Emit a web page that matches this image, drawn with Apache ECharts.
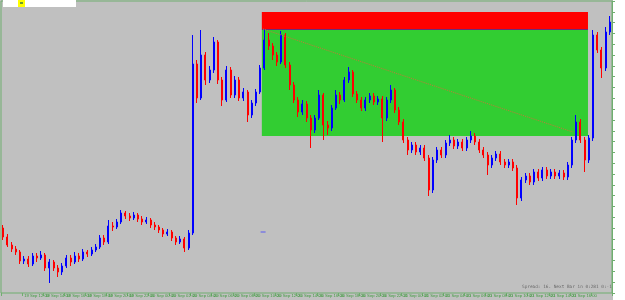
<!DOCTYPE html>
<html><head><meta charset="utf-8">
<script src="https://cdn.jsdelivr.net/npm/echarts@6/dist/echarts.min.js"></script>
<style>html,body{margin:0;padding:0;background:#c0c0c0}#c{width:625px;height:300px}</style>
</head><body><div id="c"></div>
<script>
const tickLabels = ['19 Sep 2023','19 Sep 12:00','19 Sep 14:00','19 Sep 16:00','19 Sep 18:00','19 Sep 20:00','19 Sep 22:00','20 Sep 00:00','20 Sep 02:00','20 Sep 04:00','20 Sep 06:00','20 Sep 08:00','20 Sep 10:00','20 Sep 12:00','20 Sep 14:00','20 Sep 16:00','20 Sep 18:00','20 Sep 20:00','20 Sep 22:00','21 Sep 00:00','21 Sep 02:00','21 Sep 04:00','21 Sep 06:00','21 Sep 08:00','21 Sep 10:00','21 Sep 12:00','21 Sep 14:00','21 Sep 16:00','21 Sep 18:00'];

const opens = [72,63,55,51,48,39,41,36,44,42,45,32,38,32,28,34,42,38,44,41,48,46,50,53,62,58,74,73,78,87,84,82,85,81,78,80,75,73,70,66,68,62,58,61,52,67,236,202,245,220,230,258,220,200,230,205,220,202,208,185,197,208,232,260,254,245,238,265,235,215,200,188,196,182,170,182,205,175,172,192,205,200,220,228,206,200,192,200,204,198,201,182,200,210,190,178,160,150,155,148,152,142,110,140,150,145,157,160,154,158,152,160,164,158,150,145,135,142,146,138,135,138,132,102,120,124,118,128,122,130,124,128,124,127,123,135,160,178,160,140,162,265,250,232,268];
const closes = [63,55,51,48,39,41,36,44,42,45,32,38,32,28,34,42,38,44,41,48,46,50,53,62,58,74,73,78,87,84,82,85,81,78,80,75,73,70,66,68,62,58,61,52,67,236,202,245,220,230,258,220,200,230,205,220,202,208,185,197,208,232,260,254,245,238,265,235,215,200,188,196,182,170,182,205,175,172,192,205,200,220,228,206,200,192,200,204,198,201,182,200,210,190,178,160,150,155,148,152,142,110,140,150,145,157,160,154,158,152,160,164,158,150,145,135,142,146,138,135,138,132,102,120,124,118,128,122,130,124,128,124,127,123,135,160,178,160,140,162,265,250,232,268,278];
const highs = [75,66,58,54,50,44,44,47,47,49,47,41,40,35,37,45,45,48,47,51,50,53,56,65,65,80,78,81,90,89,87,88,87,84,83,82,78,75,72,71,70,64,64,63,70,265,240,270,248,234,263,260,223,234,233,224,223,212,210,200,211,235,270,267,257,248,269,267,238,218,203,200,199,185,185,210,207,179,195,210,208,223,233,230,209,203,203,207,207,204,204,203,215,212,193,181,163,158,158,155,155,145,143,153,153,160,165,163,161,161,163,169,167,161,153,148,145,149,149,141,141,141,135,123,127,127,131,131,133,133,131,131,130,130,138,163,185,181,163,165,270,268,253,273,284];
const lows = [60,53,48,45,36,36,33,34,38,40,29,17,29,23,25,32,34,36,38,39,43,44,48,51,55,56,69,71,76,81,79,80,78,75,76,72,70,67,63,64,59,55,56,48,50,65,197,200,215,217,227,216,194,198,202,202,199,199,178,182,194,206,230,250,240,234,236,232,210,197,183,185,178,152,167,180,160,165,169,190,196,198,217,203,197,189,189,197,195,195,158,179,197,187,175,157,145,147,145,145,139,104,107,137,142,142,154,151,151,149,149,157,155,147,142,125,132,139,135,132,132,129,95,99,117,115,115,119,119,121,121,121,121,120,120,132,157,157,128,137,159,247,222,229,265];

// objects drawn on the chart, in (bar position, price) units
const zoneStart = 61.9, zoneEnd = 139.3;
const redZone = [288, 271];
const greenZone = [270, 164];
const trendLine = [[62.2, 271], [135.7, 168]];
const stray = [[62.2, 68]];

const n = closes.length;
const cats = closes.map((_, i) => i);
const ohlc = closes.map((c, i) => [opens[i], c, lows[i], highs[i]]);
const green = '#6fae6f';

const chart = echarts.init(document.getElementById('c'), null, {renderer: 'canvas'});
chart.setOption({
  animation: false,
  backgroundColor: '#c0c0c0',
  grid: {left: 1, top: 1, right: 13, bottom: 7, show: true, borderColor: green, borderWidth: 1, backgroundColor: '#c0c0c0'},
  xAxis: [
    {type: 'category', data: cats, boundaryGap: true,
     axisLine: {show: false},
     axisTick: {show: true, interval: 4, length: 3, lineStyle: {color: green}},
     axisLabel: {interval: 4, formatter: (v, i) => tickLabels[i / 5] || '', fontSize: 4.2, color: '#3f9a3f', margin: 1, align: 'left', fontFamily: 'Liberation Sans'},
     splitLine: {show: false}},
    {type: 'value', min: 0, max: n, show: false}
  ],
  yAxis: [
    {type: 'value', min: 7, max: 299, show: false, splitLine: {show: false}},
    {type: 'value', min: 0, max: 297, interval: 11, position: 'right',
     axisLine: {show: true, lineStyle: {color: green}},
     axisTick: {show: true, length: 3, lineStyle: {color: green}},
     axisLabel: {show: false}, splitLine: {show: false}}
  ],
  graphic: [
    {type: 'rect', shape: {x: 613, y: 0, width: 12, height: 300}, style: {fill: '#ffffff'}, z: -1},
    {type: 'rect', shape: {x: 3, y: 0, width: 73, height: 7}, style: {fill: '#ffffff'}, z: 10},
    {type: 'rect', shape: {x: 18, y: 0, width: 7, height: 7}, style: {fill: '#ffff00'}, z: 11},
    {type: 'rect', shape: {x: 20, y: 2, width: 3, height: 2}, style: {fill: '#6a9a30'}, z: 12},
    {type: 'text', x: 522, y: 285, style: {text: 'Spread: 16. Next Bar in 0:281 0:-1', fontSize: 4.4, fontFamily: 'DejaVu Sans Mono', fill: '#6a6a6a'}, z: 10}
  ],
  series: [
    {type: 'line', xAxisIndex: 1, yAxisIndex: 0, data: [], z: 1, silent: true,
     markArea: {silent: true, data: [
       [{coord: [zoneStart, redZone[0]], itemStyle: {color: '#ff0000'}}, {coord: [zoneEnd, redZone[1]]}],
       [{coord: [zoneStart, greenZone[0]], itemStyle: {color: '#32cd32'}}, {coord: [zoneEnd, greenZone[1]]}]
     ]},
     markLine: {silent: true, symbol: 'none', label: {show: false}, lineStyle: {color: '#6a2c7a', width: 1, type: 'solid'},
       data: [[{coord: [zoneStart, redZone[1]]}, {coord: [zoneEnd, redZone[1]]}]]}
    },
    {type: 'candlestick', xAxisIndex: 0, yAxisIndex: 0, data: ohlc, z: 2, barWidth: 1.5,
     itemStyle: {color: '#0000ff', color0: '#ff0000', borderColor: '#0000ff', borderColor0: '#ff0000', borderWidth: 1}},
    {type: 'line', xAxisIndex: 1, yAxisIndex: 0, data: [], z: 3, silent: true,
     markLine: {silent: true, symbol: 'none', label: {show: false}, lineStyle: {color: '#c47838', width: 1, type: 'dotted'},
       data: [[{coord: trendLine[0]}, {coord: trendLine[1]}]]}},
    {type: 'scatter', xAxisIndex: 1, yAxisIndex: 0, data: stray, symbol: 'rect', symbolSize: [5, 1], itemStyle: {color: '#4040ff'}, z: 3, silent: true}
  ]
});
</script></body></html>
